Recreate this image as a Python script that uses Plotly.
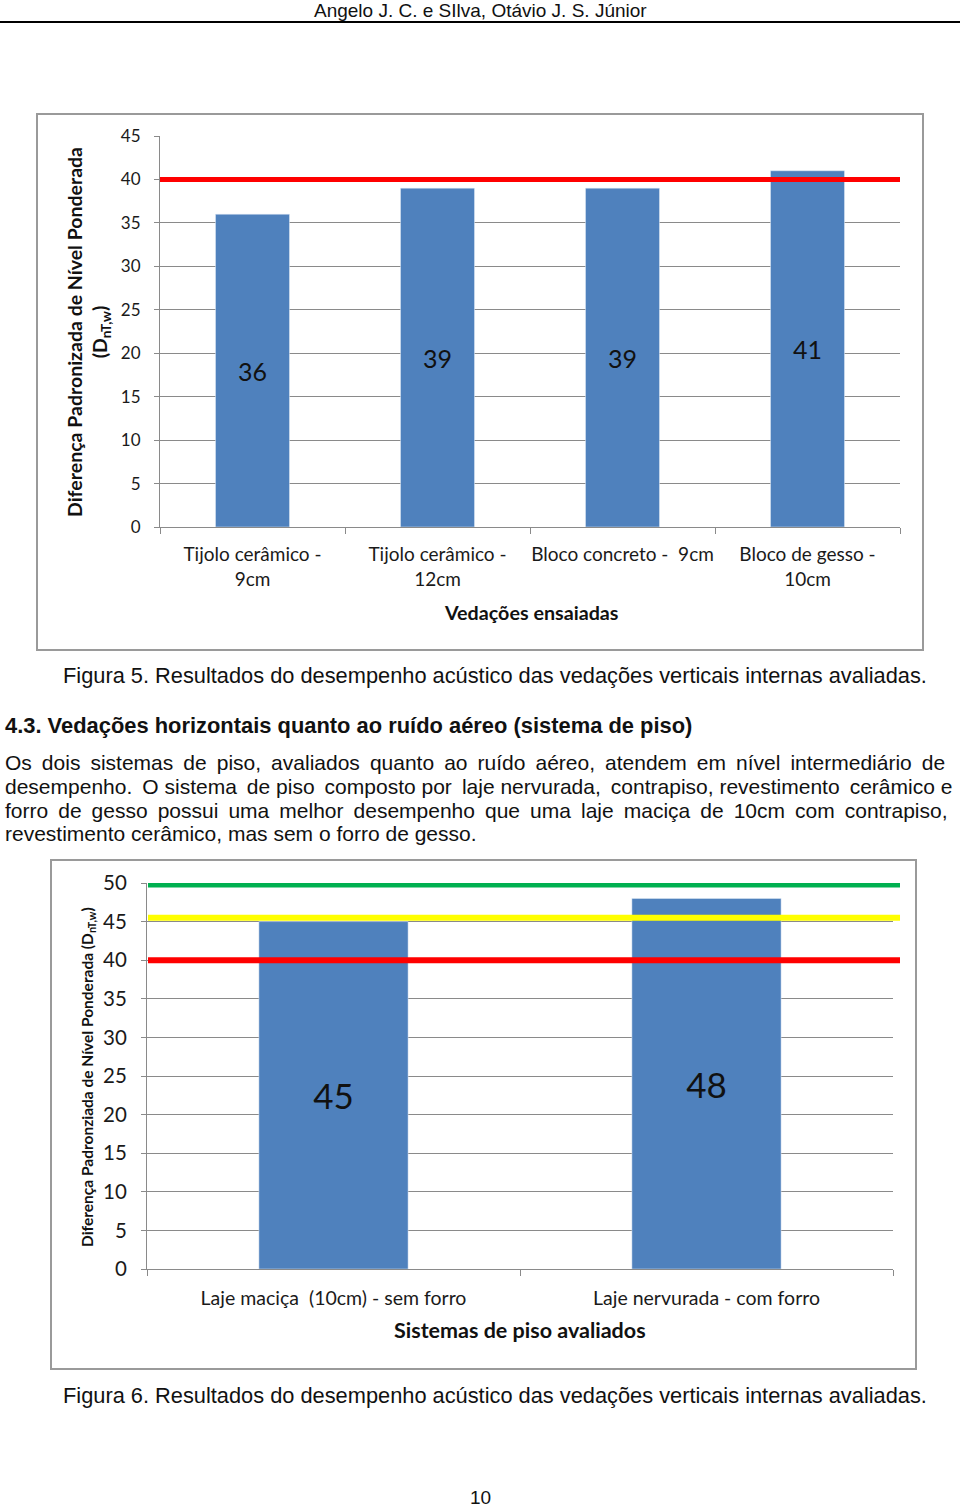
import plotly.graph_objects as go

# ---- data ----
vedacoes = ["Tijolo cerâmico -<br>9cm", "Tijolo cerâmico -<br>12cm",
            "Bloco concreto - \u00a09cm", "Bloco de gesso -<br>10cm"]
dnt_vedacoes = [36, 39, 39, 41]
limite_vedacoes = 40

pisos = ["Laje maciça \u00a0(10cm) - sem forro", "Laje nervurada - com forro"]
dnt_pisos = [45, 48]
niveis_pisos = [40, 45.5, 49.8]
cores_niveis = ["#ff0000", "#ffff00", "#00b050"]

W, H = 960, 1509
BAR = "#4f81bd"
GRID = "#8a8a8a"
CAL = "Lato, Open Sans, sans-serif"
BODY = "Liberation Sans, Arial, sans-serif"
TS = "\u2009"  # thin space, used to stretch justified lines


def px(x):
    return x / W


def py(y):
    return 1 - y / H


fig = go.Figure()
fig.add_trace(go.Bar(x=vedacoes, y=dnt_vedacoes, marker_color=BAR, text=dnt_vedacoes,
                     textposition="inside", insidetextanchor="middle", textangle=0,
                     textfont=dict(family=CAL, size=25, color="#111"),
                     xaxis="x", yaxis="y", showlegend=False))
fig.add_trace(go.Bar(x=pisos, y=dnt_pisos, marker_color=BAR, text=dnt_pisos,
                     textposition="inside", insidetextanchor="middle", textangle=0,
                     textfont=dict(family=CAL, size=35, color="#111"),
                     xaxis="x2", yaxis="y2", showlegend=False))

ax_common = dict(showline=True, linecolor=GRID, linewidth=1, ticks="outside",
                 tickcolor=GRID, ticklen=6, showgrid=False, zeroline=False, tickangle=0)
ay_common = dict(showline=True, linecolor=GRID, linewidth=1, ticks="outside",
                 tickcolor=GRID, ticklen=5, showgrid=True, gridcolor=GRID, gridwidth=1,
                 zeroline=False, dtick=5, ticklabelstandoff=10)

fig.update_layout(
    width=W, height=H, autosize=False,
    margin=dict(l=0, r=0, t=0, b=0, autoexpand=False),
    paper_bgcolor="white", plot_bgcolor="white",
    bargap=0.6,
    xaxis=dict(ax_common, domain=[px(160), px(900)], anchor="y", type="category",
               tickson="boundaries", ticklabelstandoff=10,
               tickfont=dict(family=CAL, size=19, color="#1a1a1a")),
    yaxis=dict(ay_common, domain=[py(527), py(136)], anchor="x", range=[0, 45],
               tickfont=dict(family=CAL, size=17, color="#1a1a1a")),
    xaxis2=dict(ax_common, domain=[px(147), px(893)], anchor="y2", type="category",
                tickson="boundaries", ticklabelstandoff=12,
                tickfont=dict(family=CAL, size=19.5, color="#1a1a1a")),
    yaxis2=dict(ay_common, domain=[py(1269), py(883)], anchor="x2", range=[0, 50],
                tickfont=dict(family=CAL, size=20.5, color="#1a1a1a")),
)

shapes = [
    dict(type="line", xref="paper", yref="paper", x0=0, x1=1, y0=py(22), y1=py(22),
         line=dict(color="black", width=2)),
    dict(type="rect", xref="paper", yref="paper", x0=px(37), x1=px(923), y0=py(650), y1=py(114),
         line=dict(color="#9a9a9a", width=2), layer="below"),
    dict(type="rect", xref="paper", yref="paper", x0=px(51), x1=px(916), y0=py(1369), y1=py(860),
         line=dict(color="#9a9a9a", width=2), layer="below"),
    dict(type="line", xref="paper", yref="y", x0=px(160), x1=px(900),
         y0=limite_vedacoes, y1=limite_vedacoes, line=dict(color="#ff0000", width=5)),
]
for nivel, cor in zip(niveis_pisos, cores_niveis):
    shapes.append(dict(type="line", xref="paper", yref="y2", x0=px(148), x1=px(900),
                       y0=nivel, y1=nivel, line=dict(color=cor, width=6)))
fig.update_layout(shapes=shapes)


def txt(text, x, y, size, family=BODY, xanchor="center", angle=0, color="#111"):
    fig.add_annotation(text=text, x=px(x), y=py(y), xref="paper", yref="paper",
                       xanchor=xanchor, yanchor="middle", showarrow=False, textangle=angle,
                       font=dict(family=family, size=size, color=color))


def stretch(line, every=1):
    # widen some word gaps so the line fills the column like justified text
    words = line.split(" ")
    out = words[0]
    for i, w in enumerate(words[1:]):
        out += (" " + TS if i % every == 0 else " ") + w
    return out


txt("Angelo J. C. e SIlva, Otávio J. S. Júnior", 480, 10.5, 19)
txt("<b>Diferença Padronizada de Nível Ponderada</b><br><b>(D<sub>nT,w</sub>)</b>", 88, 332, 19.5,
    family=CAL, angle=-90)
txt("<b>Vedações ensaiadas</b>", 531, 612, 19.7, family=CAL)
txt("Figura 5. Resultados do desempenho acústico das vedações verticais internas avaliadas.",
    495, 676, 21.8)
txt("<b>4.3. Vedações horizontais quanto ao ruído aéreo (sistema de piso)</b>", 3, 725, 21.9,
    xanchor="left")
paragrafo = [
    "Os dois sistemas de piso, avaliados quanto ao ruído aéreo, atendem em nível intermediário de",
    "desempenho. O sistema de piso composto por laje nervurada, contrapiso, revestimento cerâmico e",
    "forro de gesso possui uma melhor desempenho que uma laje maciça de 10cm com contrapiso,",
    "revestimento cerâmico, mas sem o forro de gesso.",
]
esticar = [1, 2, 1, 0]
for i, linha in enumerate(paragrafo):
    if esticar[i]:
        linha = stretch(linha, esticar[i])
    txt(linha, 3, 762 + 24 * i, 21, xanchor="left")
txt("<b>Diferença Padronziada de Nível Ponderada (D<sub>nT,w</sub>)</b>", 88, 1077, 15.5,
    family=CAL, angle=-90)
txt("<b>Sistemas de piso avaliados</b>", 520, 1330, 21.5, family=CAL)
txt("Figura 6. Resultados do desempenho acústico das vedações verticais internas avaliadas.",
    495, 1395, 21.8)
txt("10", 480, 1497, 19)

fig.write_html("out.html", config={"displayModeBar": False},
               post_script="document.body.style.margin='0';")
